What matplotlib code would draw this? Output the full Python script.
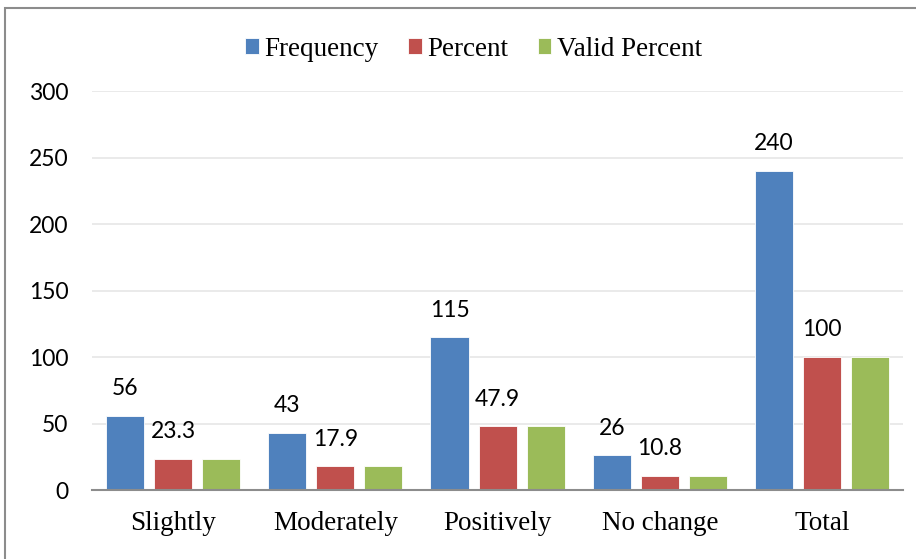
import numpy as np
import matplotlib.pyplot as plt
from matplotlib.patches import Rectangle

# data
categories = ['Slightly', 'Moderately', 'Positively', 'No change', 'Total']
frequency = [56, 43, 115, 26, 240]
percent = [23.3, 17.9, 47.9, 10.8, 100]
valid_percent = [23.3, 17.9, 47.9, 10.8, 100]
series_names = ['Frequency', 'Percent', 'Valid Percent']
colors = ['#4F81BD', '#C0504D', '#9BBB59']

fig = plt.figure(figsize=(9.16, 5.59), dpi=100)
ax = fig.add_axes([0.1004, 0.1234, 0.8856, 0.7136])

x = np.arange(len(categories))
width = 0.235
step = 0.296
series = [frequency, percent, valid_percent]
bars = []
for i, (vals, name, c) in enumerate(zip(series, series_names, colors)):
    b = ax.bar(x + (i - 1) * step, vals, width, color=c, label=name,
               edgecolor='white', linewidth=0.6, zorder=3)
    bars.append(b)

# data labels on Frequency and Percent only
for b, vals in zip(bars[:2], series[:2]):
    for rect, v in zip(b, vals):
        ax.annotate(f'{v:g}', xy=(rect.get_x() + rect.get_width() / 2, v),
                    xytext=(0, 19.5), textcoords='offset points',
                    ha='center', va='center', fontsize=16.5, family='Lato')

ax.set_xlim(-0.5, len(categories) - 0.5)
ax.set_ylim(0, 300)
ax.set_yticks(range(0, 301, 50))
ax.set_xticks(x)
ax.set_xticklabels(categories, family='Liberation Serif', fontsize=19.5)
for lbl in ax.get_yticklabels():
    lbl.set_family('Lato')
    lbl.set_fontsize(16.5)
ax.tick_params(axis='y', length=0, pad=17)
ax.tick_params(axis='x', length=0, pad=15)
ax.grid(axis='y', color='#e6e6e6', linewidth=1.2, zorder=0)
for s in ['top', 'right', 'left']:
    ax.spines[s].set_visible(False)
ax.spines['bottom'].set_color('#8c8c8c')
ax.spines['bottom'].set_linewidth(1.5)
ax.spines['bottom'].set_zorder(4)

fig.legend(loc='center', bbox_to_anchor=(0.517, 0.912), ncol=3, frameon=False,
           prop={'family': 'Liberation Serif', 'size': 19.5},
           handlelength=0.5, handleheight=0.5, handletextpad=0.2,
           columnspacing=1.1)

# chart border
fig.patches.append(Rectangle((5 / 916, -0.1), 1.2, 1.1 - 8 / 559,
                             transform=fig.transFigure, fill=False,
                             edgecolor='#8c8c8c', linewidth=1.5))

fig.savefig('out.png', dpi=100)
